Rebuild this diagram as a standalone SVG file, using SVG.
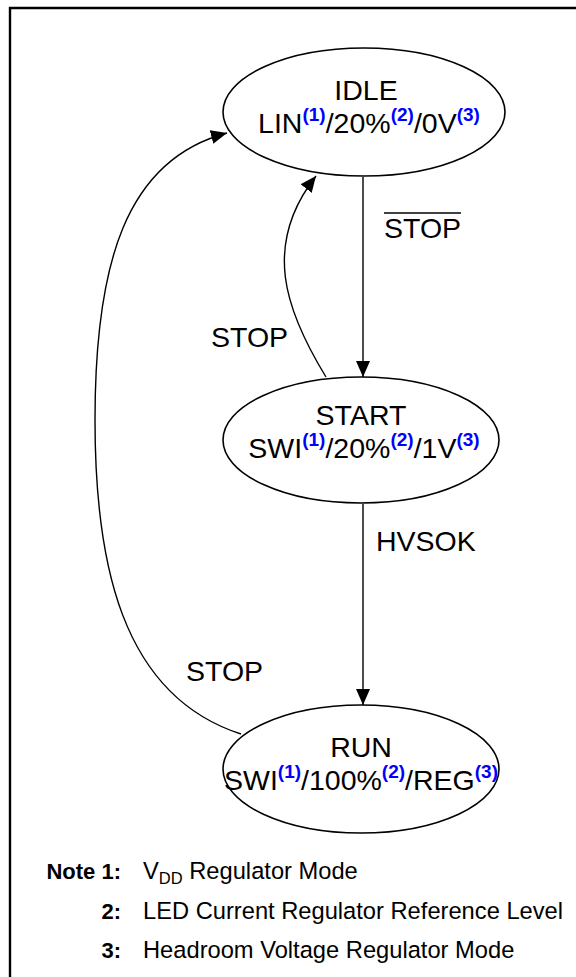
<svg xmlns="http://www.w3.org/2000/svg" width="576" height="977" viewBox="0 0 576 977">
<style>
.t{font-family:"Liberation Sans",Arial,sans-serif;font-size:28.5px;fill:#000}
.s{font-family:"Liberation Sans",Arial,sans-serif;font-size:19px;font-weight:bold;fill:#0000ff}
.n{font-family:"Liberation Sans",Arial,sans-serif;font-size:23.7px;fill:#000}
.b{font-weight:bold;font-size:22px}
.node{fill:#fff;stroke:#000;stroke-width:1.6}
.edge{fill:none;stroke:#000;stroke-width:1.4}
</style>
<defs>
<marker id="ah" markerUnits="userSpaceOnUse" markerWidth="18" markerHeight="14" refX="16" refY="7" orient="auto">
<path d="M0,0 L16,7 L0,14 Z" fill="#000"/>
</marker>
</defs>
<rect x="0" y="0" width="576" height="977" fill="#fff"/>
<path d="M10,977 L10,8 L576,8" fill="none" stroke="#000" stroke-width="2.4"/>

<g id="connectors">
<path class="edge" d="M363,177 L363,377" marker-end="url(#ah)"/>
<path class="edge" d="M326,377 C 285,310 262,245 316,176" marker-end="url(#ah)"/>
<path class="edge" d="M363,504 L363,705" marker-end="url(#ah)"/>
<path class="edge" d="M241,734 C 120,695 95,560 95,420 C 95,265 125,160 227,133" marker-end="url(#ah)"/>
<text class="t" x="384" y="238">STOP</text>
<line x1="384" y1="213" x2="461" y2="213" stroke="#000" stroke-width="1.6"/>
<text class="t" x="211" y="347">STOP</text>
<text class="t" x="376" y="551">HVSOK</text>
<text class="t" x="186" y="681">STOP</text>
</g>

<g id="idle">
<ellipse class="node" cx="364" cy="112" rx="141" ry="64"/>
<text class="t" x="366" y="100" text-anchor="middle">IDLE</text>
<text class="t" x="369" y="133" text-anchor="middle">LIN<tspan class="s" dy="-12">(1)</tspan><tspan dy="12">/20%</tspan><tspan class="s" dy="-12">(2)</tspan><tspan dy="12">/0V</tspan><tspan class="s" dy="-12">(3)</tspan></text>
</g>

<g id="start">
<ellipse class="node" cx="361" cy="440" rx="138" ry="63"/>
<text class="t" x="361" y="425" text-anchor="middle">START</text>
<text class="t" x="364" y="458" text-anchor="middle">SWI<tspan class="s" dy="-12">(1)</tspan><tspan dy="12">/20%</tspan><tspan class="s" dy="-12">(2)</tspan><tspan dy="12">/1V</tspan><tspan class="s" dy="-12">(3)</tspan></text>
</g>

<g id="run">
<ellipse class="node" cx="361" cy="769" rx="138" ry="64"/>
<text class="t" x="361" y="757" text-anchor="middle">RUN</text>
<text class="t" x="361" y="790" text-anchor="middle">SWI<tspan class="s" dy="-12">(1)</tspan><tspan dy="12">/100%</tspan><tspan class="s" dy="-12">(2)</tspan><tspan dy="12">/REG</tspan><tspan class="s" dy="-12">(3)</tspan></text>
</g>

<g id="notes">
<text class="n b" x="121" y="879" text-anchor="end">Note 1:</text>
<text class="n" x="143" y="879">V<tspan font-size="16.5" dy="5">DD</tspan><tspan dy="-5"> Regulator Mode</tspan></text>
<text class="n b" x="121" y="919" text-anchor="end">2:</text>
<text class="n" x="143" y="919">LED Current Regulator Reference Level</text>
<text class="n b" x="121" y="958" text-anchor="end">3:</text>
<text class="n" x="143" y="958">Headroom Voltage Regulator Mode</text>
</g>
</svg>
